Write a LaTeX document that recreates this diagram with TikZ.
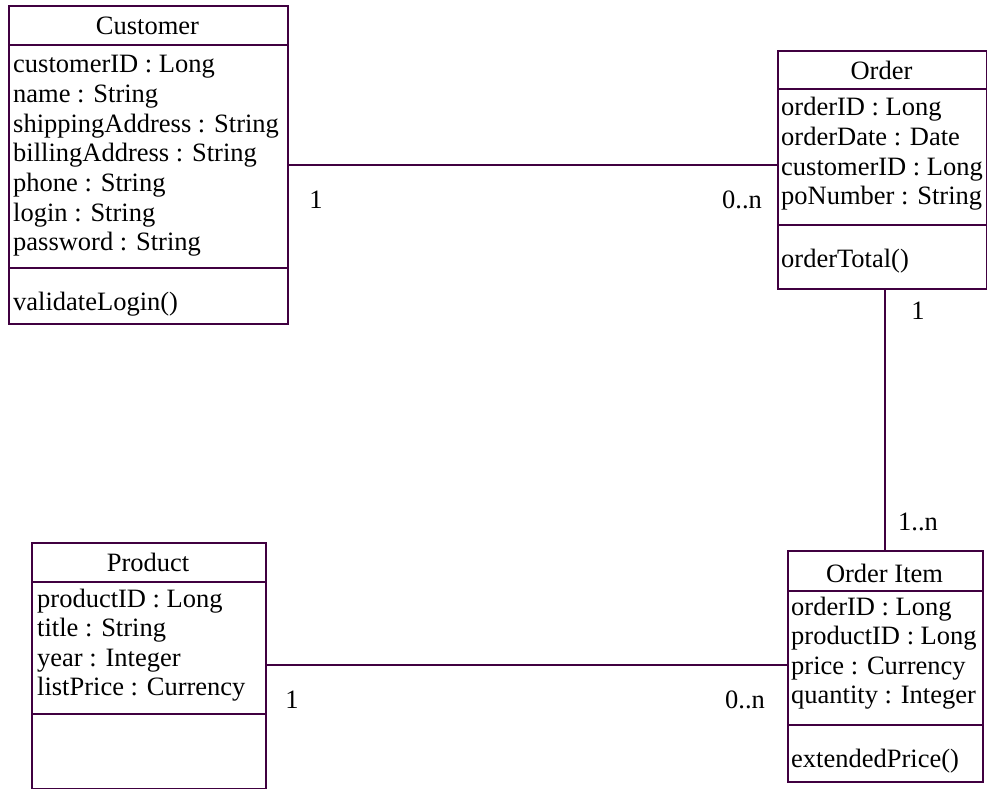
\documentclass[tikz,border=0pt]{standalone}
\usepackage{fontspec}
\setmainfont{Liberation Serif}
\definecolor{umlline}{RGB}{64,0,64}
\tikzset{
  classbox/.style={draw=umlline, line width=2pt, anchor=north west, inner sep=0pt},
  sepline/.style={draw=umlline, line width=2pt},
  assoc/.style={draw=umlline, line width=2pt},
  member/.style={anchor=base west, inner sep=0pt, font=\fontsize{26.5}{29.6}\selectfont},
  classname/.style={anchor=base, inner sep=0pt, font=\fontsize{26.5}{29.6}\selectfont},
  mult/.style={anchor=base, inner sep=0pt, font=\fontsize{26.5}{29.6}\selectfont},
}
\begin{document}
\begin{tikzpicture}[x=1pt,y=-1pt]
    \useasboundingbox (0,0) rectangle (987,789);

    % Customer
    \node[classbox, minimum width=279pt, minimum height=318pt] (customer) at (8,5) {};
    \draw[sepline] (customer.west |- 0,45) -- (customer.east |- 0,45);
    \draw[sepline] (customer.west |- 0,268) -- (customer.east |- 0,268);
    \node[classname] (customerName) at (147.5,35) {Customer};
    \foreach \m [count=\i] in {customerID : Long, name : String, shippingAddress : String,
        billingAddress : String, phone : String, login : String, password : String} {
        \node[member] (cust\i) at (13,{73+(\i-1)*29.6}) {\m};
    }
    \node[member] (custOp) at (13,310) {validateLogin()};

    % Order
    \node[classbox, minimum width=209pt, minimum height=238pt] (order) at (777,50) {};
    \draw[sepline] (order.west |- 0,89) -- (order.east |- 0,89);
    \draw[sepline] (order.west |- 0,225) -- (order.east |- 0,225);
    \node[classname] (orderName) at (881.5,80) {Order};
    \foreach \m [count=\i] in {orderID : Long, orderDate : Date, customerID : Long, poNumber : String} {
        \node[member] (ord\i) at (781,{116+(\i-1)*29.6}) {\m};
    }
    \node[member] (ordOp) at (781,267) {orderTotal()};

    % Product
    \node[classbox, minimum width=234pt, minimum height=246pt] (product) at (31,542) {};
    \draw[sepline] (product.west |- 0,582) -- (product.east |- 0,582);
    \draw[sepline] (product.west |- 0,714) -- (product.east |- 0,714);
    \node[classname] (productName) at (148,571) {Product};
    \foreach \m [count=\i] in {productID : Long, title : String, year : Integer, listPrice : Currency} {
        \node[member] (prod\i) at (37,{607+(\i-1)*29.6}) {\m};
    }

    % Order Item
    \node[classbox, minimum width=195pt, minimum height=231pt] (item) at (787,550) {};
    \draw[sepline] (item.west |- 0,591) -- (item.east |- 0,591);
    \draw[sepline] (item.west |- 0,725) -- (item.east |- 0,725);
    \node[classname] (itemName) at (884.5,582) {Order Item};
    \foreach \m [count=\i] in {orderID : Long, productID : Long, price : Currency, quantity : Integer} {
        \node[member] (item\i) at (791,{615+(\i-1)*29.6}) {\m};
    }
    \node[member] (itemOp) at (791,767) {extendedPrice()};

    % associations
    \draw[assoc] (customer.east |- 0,165) -- (order.west |- 0,165);
    \draw[assoc] (order.south -| 885,0) -- (item.north -| 885,0);
    \draw[assoc] (product.east |- 0,665) -- (item.west |- 0,665);

    \node[mult] (m1) at (316,208) {1};
    \node[mult] (m2) at (742,208) {0..n};
    \node[mult] (m3) at (918,319) {1};
    \node[mult] (m4) at (918,530) {1..n};
    \node[mult] (m5) at (292,708) {1};
    \node[mult] (m6) at (745,708) {0..n};
\end{tikzpicture}
\end{document}
